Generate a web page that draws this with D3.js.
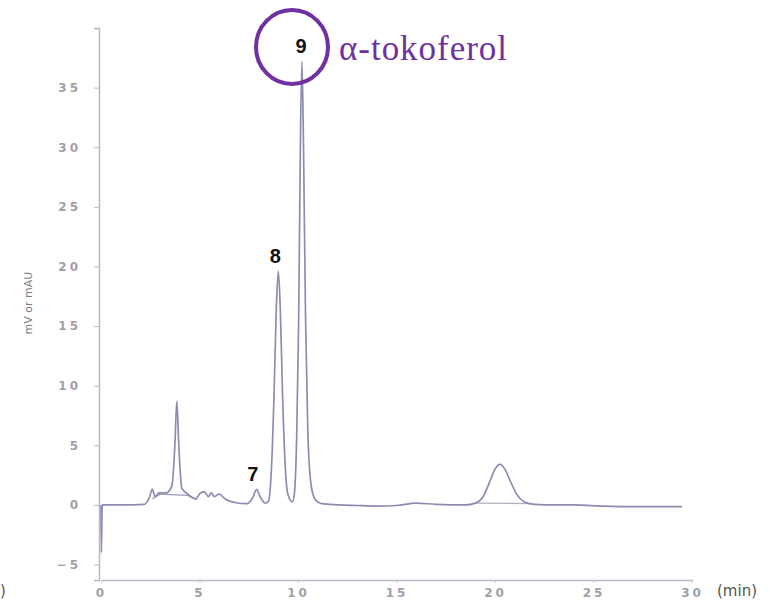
<!DOCTYPE html>
<html>
<head>
<meta charset="utf-8">
<script src="https://cdn.jsdelivr.net/npm/d3@7"></script>
<style>
  body { margin: 0; background: #fff; }
  svg { display: block; }
  .tick text { font-family: "DejaVu Sans", sans-serif; font-weight: bold; fill: #a0a0aa; }
</style>
</head>
<body>
<div id="chart"></div>
<script>
// retention time (min) and detector signal (mV)
const timeMin = [0, 0.02, 0.06, 1.0, 2.2, 2.45, 2.6, 2.75, 2.95, 3.3, 3.6, 3.75, 3.85, 3.95, 4.1, 4.4, 4.8,
  5.05, 5.25, 5.45, 5.6, 5.75, 6.0, 6.3, 6.8, 7.4, 7.7, 7.9, 8.1, 8.35,
  8.5, 8.65, 8.78, 8.9, 9.0, 9.1, 9.22, 9.36, 9.5, 9.72,
  9.82, 9.93, 10.03, 10.12, 10.2, 10.28, 10.38, 10.5, 10.68, 10.9, 11.2, 11.6,
  13, 14, 15, 16, 17, 18.5, 19.0, 19.4, 19.7, 20.0, 20.25, 20.5, 20.8, 21.1, 21.5, 22.0,
  23, 24, 25.5, 27, 29.5]
const signalMv = [0, -4.0, 0, 0, 0.05, 0.6, 1.3, 0.7, 1.0, 1.0, 1.6, 5.0, 8.7, 5.0, 1.4, 0.9, 0.5,
  1.0, 1.1, 0.7, 1.0, 0.7, 0.9, 0.5, 0.2, 0.1, 0.6, 1.3, 0.6, 0.15,
  0.3, 3.0, 9.0, 16.5, 19.6, 16.5, 9.0, 3.0, 0.8, 0.25,
  1.0, 5.5, 15.0, 30.0, 37.2, 30.0, 16.0, 6.0, 1.5, 0.4, 0.1, 0.05,
  -0.05, -0.1, -0.05, 0.15, 0.05, 0, 0.15, 0.7, 1.8, 3.0, 3.4, 3.0, 1.9, 0.9, 0.25, 0.05,
  0, 0, -0.1, -0.15, -0.15]

// integrator baselines drawn under peaks
const baseEarlyT = [2.6, 3.0, 4.4, 4.9]
const baseEarlyV = [0.5, 0.9, 0.8, 0.45]
const baseLateT = [19.0, 21.9]
const baseLateV = [0.15, 0.1]

const yTicks = [-5, 0, 5, 10, 15, 20, 25, 30, 35]
const xTicks = [0, 5, 10, 15, 20, 25, 30]

const peakLabels = [
  { name: '7', t: 7.7, v: 1.3 },
  { name: '8', t: 8.85, v: 19.6 },
  { name: '9', t: 10.15, v: 37.2 }
]

const width = 770, height = 603
const svg = d3.select('#chart').append('svg')
  .attr('width', width)
  .attr('height', height)

const x = d3.scaleLinear().domain([0, 30]).range([101, 692])
const y = d3.scaleLinear().domain([-6.3, 40]).range([580, 28])

// y axis
const yAxis = svg.append('g')
  .attr('transform', 'translate(99,0)')
  .call(d3.axisLeft(y).tickValues(yTicks).tickSize(5).tickPadding(13))
yAxis.select('.domain').attr('stroke', '#b9b9c6').attr('stroke-width', 1.5)
yAxis.selectAll('.tick line').attr('stroke', '#b9b9c6')
yAxis.selectAll('.tick text').attr('font-size', 12).attr('letter-spacing', 3)

// x axis
const xAxis = svg.append('g')
  .attr('transform', 'translate(0,580)')
  .call(d3.axisBottom(x).tickValues(xTicks).tickSize(3).tickPadding(5).tickSizeOuter(0))
xAxis.select('.domain').attr('stroke', '#b9b9c6').attr('stroke-width', 1.5)
xAxis.selectAll('.tick line').attr('stroke', '#c8c8d2')
xAxis.selectAll('.tick text').attr('font-size', 12).attr('letter-spacing', 3)

svg.append('text')
  .attr('x', 717).attr('y', 596)
  .attr('font-family', 'DejaVu Sans, sans-serif')
  .attr('font-size', 15)
  .attr('fill', '#555')
  .text('(min)')

svg.append('text')
  .attr('x', 0).attr('y', 596)
  .attr('font-family', 'DejaVu Sans, sans-serif')
  .attr('font-size', 15)
  .attr('fill', '#555')
  .text(')')

svg.append('text')
  .attr('transform', 'translate(32,303) rotate(-90)')
  .attr('text-anchor', 'middle')
  .attr('font-family', 'DejaVu Sans, sans-serif')
  .attr('font-size', 11)
  .attr('fill', '#7c7c8c')
  .text('mV or mAU')

// baselines
const line = d3.line()
  .x(d => x(d[0]))
  .y(d => y(d[1]))

svg.append('path')
  .datum(d3.zip(baseEarlyT, baseEarlyV))
  .attr('fill', 'none')
  .attr('stroke', '#9a9cb4')
  .attr('stroke-width', 1.2)
  .attr('d', line)
svg.append('path')
  .datum(d3.zip(baseLateT, baseLateV))
  .attr('fill', 'none')
  .attr('stroke', '#b0b2c2')
  .attr('stroke-width', 1.2)
  .attr('d', line)

// chromatogram trace
svg.append('path')
  .datum(d3.zip(timeMin, signalMv))
  .attr('fill', 'none')
  .attr('stroke', '#8a8daf')
  .attr('stroke-width', 1.7)
  .attr('stroke-linejoin', 'round')
  .attr('d', line.curve(d3.curveMonotoneX))

// peak numbers
svg.selectAll('.peak')
  .data(peakLabels)
  .join('text')
  .attr('class', 'peak')
  .attr('x', d => x(d.t))
  .attr('y', d => y(d.v) - 8)
  .attr('text-anchor', 'middle')
  .attr('font-family', 'Liberation Sans, Arial, sans-serif')
  .attr('font-weight', 'bold')
  .attr('font-size', 20)
  .attr('fill', '#111')
  .text(d => d.name)

// highlight for alpha-tocopherol
svg.append('ellipse')
  .attr('cx', 292).attr('cy', 47)
  .attr('rx', 36).attr('ry', 37)
  .attr('fill', 'none')
  .attr('stroke', '#7030a0')
  .attr('stroke-width', 4)

svg.append('text')
  .attr('x', 339).attr('y', 60)
  .attr('font-family', 'Liberation Serif, serif')
  .attr('font-size', 35)
  .attr('textLength', 168)
  .attr('fill', '#7030a0')
  .text('α-tokoferol')
</script>
</body>
</html>
